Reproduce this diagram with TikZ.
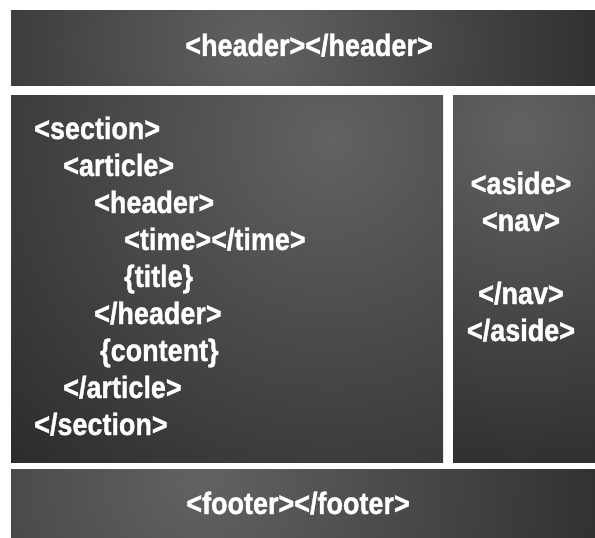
\documentclass[tikz,border=0pt]{standalone}
\usepackage{fontspec}
\newfontfamily\tagfont{Liberation Sans Bold}[FakeStretch=0.87, FakeBold=1.2]
\usetikzlibrary{positioning}
\definecolor{panel-light}{RGB}{98,98,98}
\definecolor{panel-dark}{RGB}{42,42,42}

\begin{document}
\begin{tikzpicture}[
    x=1pt, y=-1pt,
    tag/.style={font=\fontsize{31}{31}\tagfont, text=white, inner sep=0pt, anchor=base west},
    ctag/.style={tag, anchor=base},
    panel/.style={fill=panel-dark}
]
\useasboundingbox[fill=white] (0,0) rectangle (595,538);

% page blocks, each with a soft light spot
\fill[panel] (11,10) rectangle (595,85);
\begin{scope}
  \clip (11,10) rectangle (595,85);
  \shade[inner color=panel-light, outer color=panel-dark] (260,45) circle (380);
\end{scope}

\fill[panel] (11,95) rectangle (443,462);
\begin{scope}
  \clip (11,95) rectangle (443,462);
  \shade[inner color=panel-light, outer color=panel-dark] (330,140) circle (470);
\end{scope}

\fill[panel] (453,95) rectangle (595,462);
\begin{scope}
  \clip (453,95) rectangle (595,462);
  \shade[inner color=panel-light, outer color=panel-dark] (520,130) circle (380);
\end{scope}

\fill[panel] (11,469) rectangle (595,538);
\begin{scope}
  \clip (11,469) rectangle (595,538);
  \shade[inner color=panel-light, outer color=panel-dark] (200,480) circle (460);
\end{scope}

% header
\node[ctag] (head) at (309,56) {<header></header>};

% section / article nesting
\node[tag] (secopen)  at (34,139) {<section>};
\node[tag] (artopen)  at (63,176) {<article>};
\node[tag] (hdopen)   at (94,213) {<header>};
\node[tag] (time)     at (124,250) {<time></time>};
\node[tag] (title)    at (124,287) {\{title\}};
\node[tag] (hdclose)  at (94,324) {</header>};
\node[tag] (content)  at (100,361) {\{content\}};
\node[tag] (artclose) at (63,398) {</article>};
\node[tag] (secclose) at (34,435) {</section>};

% aside with nav
\node[ctag] (asopen)   at (521,194) {<aside>};
\node[ctag] (navopen)  at (521,231) {<nav>};
\node[ctag] (navclose) at (521,304) {</nav>};
\node[ctag] (asclose)  at (521,341) {</aside>};

% footer
\node[ctag] (foot) at (298,514) {<footer></footer>};

\end{tikzpicture}
\end{document}
